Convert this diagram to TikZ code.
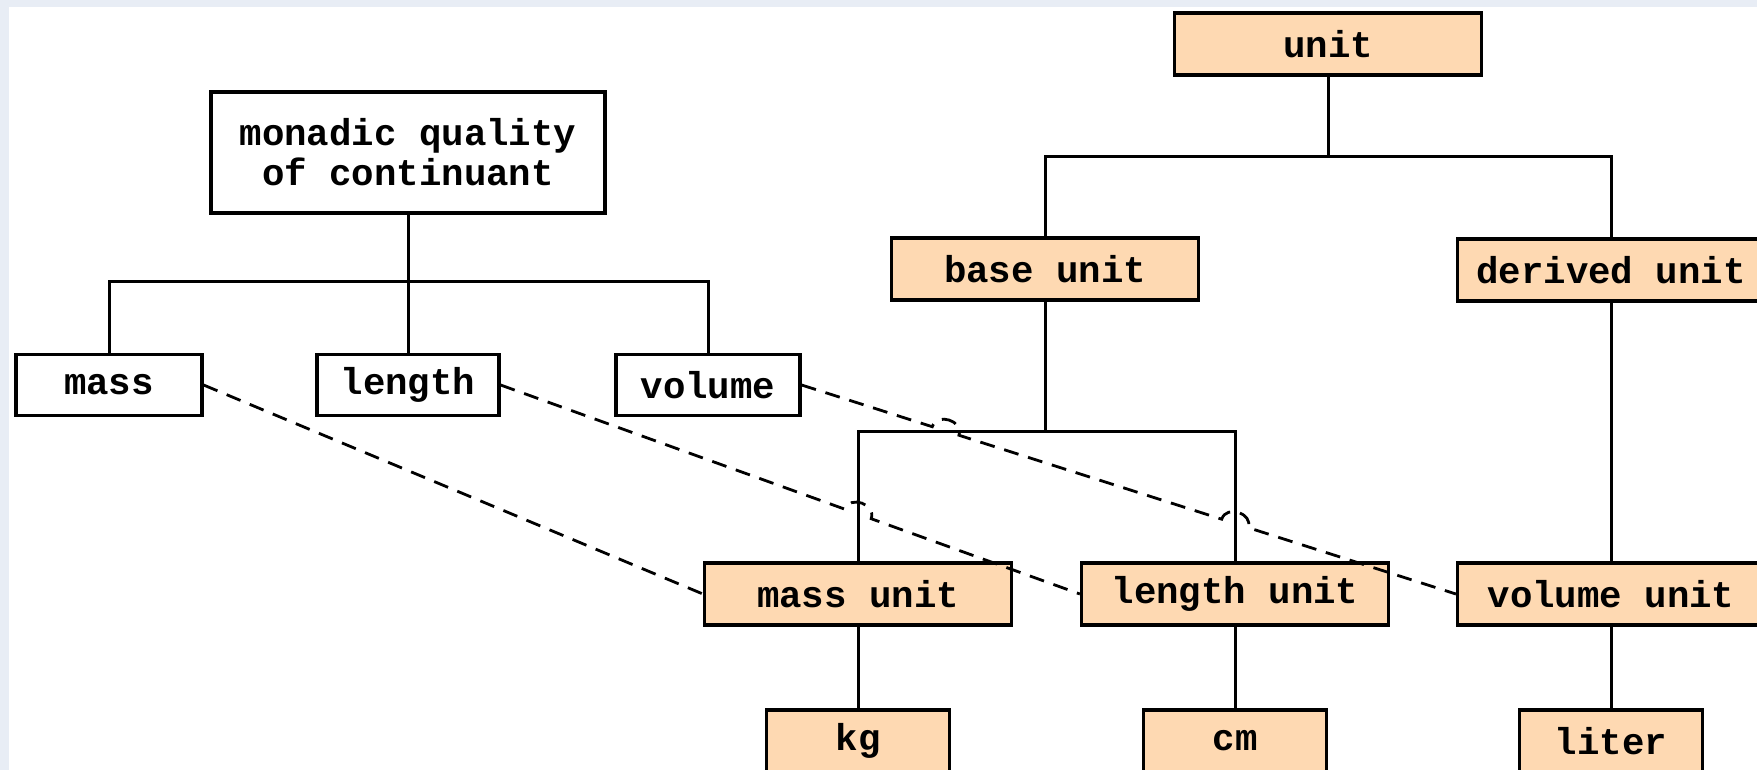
\documentclass[tikz,border=0pt]{standalone}
\usepackage{fontspec}
\setmonofont{Liberation Mono}
\usetikzlibrary{calc}
\definecolor{peach}{RGB}{254,217,178}
\definecolor{framebg}{RGB}{232,237,245}

\begin{document}
\begin{tikzpicture}[x=0.5pt, y=-0.5pt,
    every node/.style={font=\fontsize{18.7}{20}\selectfont\ttfamily\bfseries},
    quality/.style={draw, line width=1.6pt, fill=white, minimum width=92pt, minimum height=30.5pt, inner sep=0pt},
    unitbox/.style={draw, line width=1.6pt, fill=peach, minimum width=153.5pt, minimum height=31pt, inner sep=0pt},
    leafbox/.style={unitbox, minimum width=91.5pt},
    tree/.style={line width=1.5pt},
    link/.style={line width=1.4pt, dash pattern=on 7.5pt off 5pt}]
                \useasboundingbox (0,0) rectangle (1757,770);
                \clip (0,0) rectangle (1757,770);

                % Frame
                \fill[framebg] (0,0) rectangle (1757,770);
                \fill[white] (9,7) rectangle (1757,770);

                % Quality side
                \node[quality, minimum width=197pt, minimum height=60.5pt, align=center] (monadic) at (408,152.5) {monadic quality\\of continuant};
                \node[quality, minimum width=93pt] (mass) at (109,385) {mass};
                \node[quality, minimum width=91pt] (length) at (408,385) {length};
                \node[quality] (volume) at (708,385) {volume};

                % Unit side
                \node[unitbox] (unit) at (1328,44) {unit};
                \node[unitbox] (base) at (1045,269) {base unit};
                \node[unitbox] (derived) at (1611,270) {derived unit};
                \node[unitbox] (massu) at (858,594) {mass unit};
                \node[unitbox] (lengthu) at (1235,594) {length unit};
                \node[unitbox] (volumeu) at (1611,594) {volume unit};
                \node[leafbox] (kg) at (858,741) {kg};
                \node[leafbox] (cm) at (1235,741) {cm};
                \node[leafbox] (liter) at (1611,741) {liter};

                % Trees
                \draw[tree] (monadic.south) -- (monadic.south |- 0,282);
                \draw[tree] (mass.north) |- (volume.north |- 0,282) -- (volume.north);
                \draw[tree] (length.north) -- (length.north |- 0,282);

                \draw[tree] (unit.south) -- (unit.south |- 0,157);
                \draw[tree] (base.north) |- (derived.north |- 0,157) -- (derived.north);

                \coordinate (barL) at (massu.north |- 0,431);
                \coordinate (barR) at (lengthu.north |- 0,431);
                \draw[tree] (base.south) -- (base.south |- 0,431);
                \draw[tree] (massu.north) -- (barL) -- (barR) -- (lengthu.north);
                \draw[tree] (derived.south) -- (volumeu.north);

                \draw[tree] (massu.south) -- (kg.north);
                \draw[tree] (lengthu.south) -- (cm.north);
                \draw[tree] (volumeu.south) -- (liter.north);

                % Dashed links with line jumps
                \coordinate (hopA) at (intersection of length.east--lengthu.west and massu.north--barL);
                \coordinate (hopB) at (intersection of volume.east--volumeu.west and barL--barR);
                \coordinate (hopC) at (intersection of volume.east--volumeu.west and lengthu.north--barR);

                \draw[link] (mass.east) -- (massu.west);
                \draw[link] (length.east) -- ($(hopA)!7pt!(length.east)$)
                    to[bend left=90, looseness=1.4] ($(hopA)!7pt!(lengthu.west)$) -- (lengthu.west);
                \draw[link] (volume.east) -- ($(hopB)!7pt!(volume.east)$)
                    to[bend left=90, looseness=1.4] ($(hopB)!7pt!(volumeu.west)$)
                    -- ($(hopC)!7pt!(volume.east)$)
                    to[bend left=90, looseness=1.4] ($(hopC)!7pt!(volumeu.west)$) -- (volumeu.west);
            \end{tikzpicture}
\end{document}
